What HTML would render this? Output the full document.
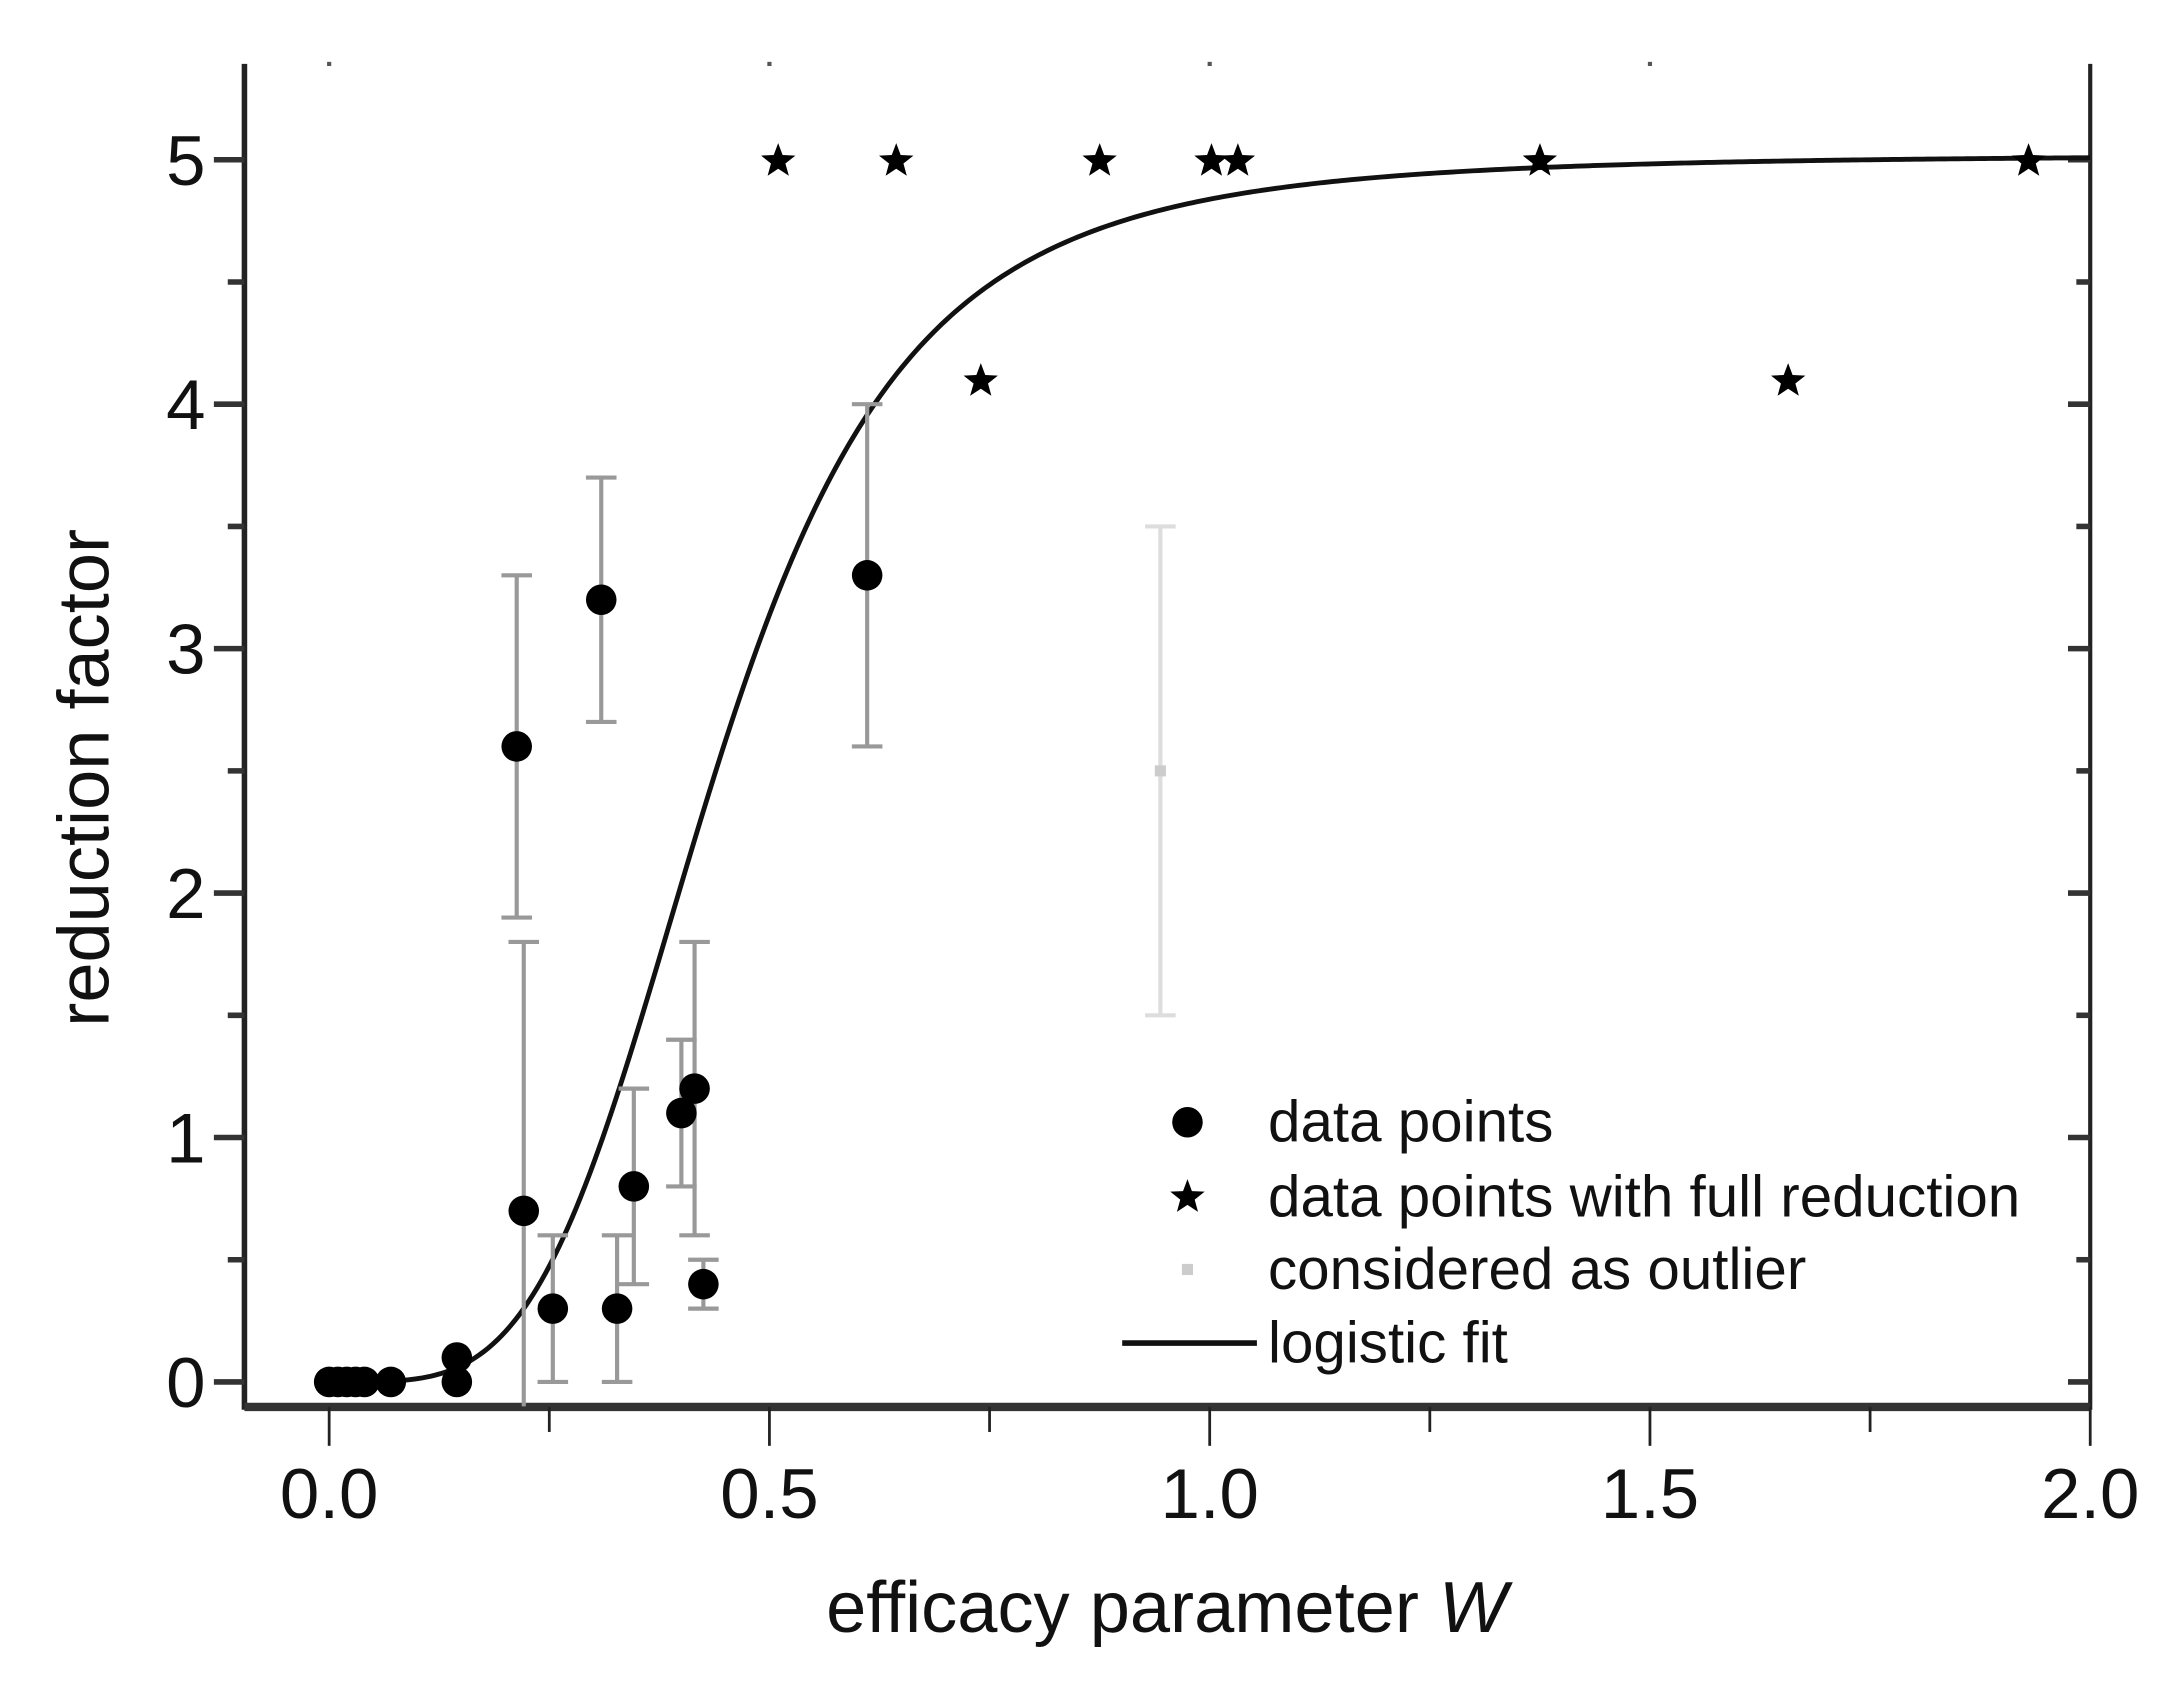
<!DOCTYPE html>
<html><head><meta charset="utf-8"><style>
html,body{margin:0;padding:0;background:#fff;}
svg{display:block;font-family:"Liberation Sans",Arial,sans-serif;}
</style></head><body>
<svg id="chart" width="2168" height="1682" viewBox="0 0 1561 1211" xmlns="http://www.w3.org/2000/svg">
<g id="axes"></g>
<g id="fit"></g>
<g id="marks"></g>
<g id="legend"></g>
</svg>
<script>
const pointX = [0.0, 0.01, 0.02, 0.03, 0.04, 0.07, 0.145, 0.145, 0.213, 0.221, 0.254, 0.309, 0.327, 0.346, 0.40, 0.415, 0.425, 0.611];
const pointY = [0, 0, 0, 0, 0, 0, 0.1, 0, 2.6, 0.7, 0.3, 3.2, 0.3, 0.8, 1.1, 1.2, 0.4, 3.3];
const errLow = [null, null, null, null, null, null, null, null, 1.9, -0.1, 0, 2.7, 0, 0.4, 0.8, 0.6, 0.3, 2.6];
const errHigh = [null, null, null, null, null, null, null, null, 3.3, 1.8, 0.6, 3.7, 0.6, 1.2, 1.4, 1.8, 0.5, 4.0];
const starX = [0.51, 0.644, 0.875, 1.002, 1.032, 1.375, 1.93, 0.74, 1.657];
const starY = [5, 5, 5, 5, 5, 5, 5, 4.1, 4.1];
const outlierX = [0.944];
const outlierY = [2.5];
const outlierLow = [1.5];
const outlierHigh = [3.5];
const fitParams = [0, 5.02, 0.44, 4]; // A1, A2, x0, p
const xTicks = [0.0, 0.5, 1.0, 1.5, 2.0];
const xTickLabels = ["0.0", "0.5", "1.0", "1.5", "2.0"];
const yTicks = [0, 1, 2, 3, 4, 5];
const yTickLabels = ["0", "1", "2", "3", "4", "5"];

const L = 176, R = 1505, T = 46, B = 1013;
const xs = v => 237 + (v - 0) * (1505 - 237) / 2.0;
const ys = v => 995 - v * (995 - 115) / 5;
const NS = "http://www.w3.org/2000/svg";
function mk(tag, attrs, parent) {
  const e = document.createElementNS(NS, tag);
  for (const k in attrs) e.setAttribute(k, attrs[k]);
  parent.appendChild(e);
  return e;
}
const axes = document.getElementById('axes');
const marks = document.getElementById('marks');
const fitG = document.getElementById('fit');
const legend = document.getElementById('legend');

let e;
e = mk('line', {x1: L, y1: T, x2: L, y2: B + 2, stroke: '#222', 'stroke-width': 4}, axes);


e = mk('line', {x1: R, y1: T, x2: R, y2: B + 2, stroke: '#222', 'stroke-width': 3}, axes);


e = mk('line', {x1: L, y1: B, x2: R, y2: B, stroke: '#333', 'stroke-width': 6}, axes);



for (let v = 0; v <= 5.01; v += 0.5) {
  const major = Math.abs(v - Math.round(v)) < 0.01;
  const y = ys(v);
  e = mk('line', {x1: L - (major ? 22 : 12), y1: y, x2: L, y2: y, stroke: '#333', 'stroke-width': 4}, axes);
  
  
  e = mk('line', {x1: R - (major ? 16 : 10), y1: y, x2: R, y2: y, stroke: '#333', 'stroke-width': 4}, axes);
  
  
}
yTicks.forEach((v, i) => {
  e = mk('text', {x: 148, y: ys(v) + 18, 'text-anchor': 'end', 'font-size': 51, fill: '#111'}, axes);
  e.textContent = yTickLabels[i];
  
  
});
for (let v = 0; v <= 2.001; v += 0.25) {
  const major = Math.abs(v * 2 - Math.round(v * 2)) < 0.01;
  const x = xs(v);
  e = mk('line', {x1: x, y1: B, x2: x, y2: B + (major ? 28 : 18), stroke: '#222', 'stroke-width': 2}, axes);
  
  
  if (major && v < 1.9) {
    e = mk('rect', {x: x - 1.5, y: T - 1.5, width: 3, height: 3, fill: '#555'}, axes);
    
    
  }
}
xTicks.forEach((v, i) => {
  e = mk('text', {x: xs(v), y: 1093, 'text-anchor': 'middle', 'font-size': 51, fill: '#111'}, axes);
  e.textContent = xTickLabels[i];
  
  
});
e = mk('text', {x: 840, y: 1175, 'text-anchor': 'middle', 'font-size': 52, fill: '#111'}, axes);
e.innerHTML = 'efficacy parameter <tspan font-style="italic">W</tspan>';


e = mk('text', {x: 0, y: 0, 'text-anchor': 'middle', 'font-size': 52, fill: '#111', transform: 'translate(78,560) rotate(-90)'}, axes);
e.textContent = 'reduction factor';



function errBar(x, lo, hi, color, name) {
  const g = mk('g', {stroke: color, 'stroke-width': 3}, marks);
  
  
  const xx = xs(x), y1 = Math.min(ys(lo), B), y2 = ys(hi);
  mk('line', {x1: xx, y1: y1, x2: xx, y2: y2}, g);
  mk('line', {x1: xx - 11, y1: y2, x2: xx + 11, y2: y2}, g);
  if (ys(lo) < B - 4) mk('line', {x1: xx - 11, y1: y1, x2: xx + 11, y2: y1}, g);
}
pointX.forEach((x, i) => {
  if (errLow[i] !== null) errBar(x, errLow[i], errHigh[i], '#999', 'error-bar');
});
outlierX.forEach((x, i) => errBar(x, outlierLow[i], outlierHigh[i], '#ddd', 'outlier-error-bar'));

let d = '';
for (let k = 0; k <= 400; k++) {
  const x = 0.001 + k * (2.0 - 0.001) / 400;
  const y = fitParams[1] + (fitParams[0] - fitParams[1]) / (1 + Math.pow(x / fitParams[2], fitParams[3]));
  d += (k ? 'L' : 'M') + xs(x).toFixed(2) + ',' + ys(y).toFixed(2);
}
e = mk('path', {d: d, fill: 'none', stroke: '#111', 'stroke-width': 3.5}, fitG);



pointX.forEach((x, i) => {
  e = mk('circle', {cx: xs(x), cy: ys(pointY[i]), r: 11, fill: '#000'}, marks);
  
  
});
function starPts(cx, cy, r) {
  let p = [];
  for (let k = 0; k < 10; k++) {
    const a = -Math.PI / 2 + k * Math.PI / 5;
    const rr = k % 2 ? r * 0.42 : r;
    p.push((cx + rr * Math.cos(a)).toFixed(1) + ',' + (cy + rr * Math.sin(a)).toFixed(1));
  }
  return p.join(' ');
}
starX.forEach((x, i) => {
  e = mk('polygon', {points: starPts(xs(x), ys(starY[i]) + 1, 13), fill: '#000'}, marks);
  
  
});
outlierX.forEach((x, i) => {
  e = mk('rect', {x: xs(x) - 4, y: ys(outlierY[i]) - 4, width: 8, height: 8, fill: '#ccc'}, marks);
  
  
});

e = mk('circle', {cx: 855, cy: 808, r: 11, fill: '#000'}, legend);


e = mk('polygon', {points: starPts(855, 862, 13), fill: '#000'}, legend);


e = mk('rect', {x: 851, y: 910, width: 8, height: 8, fill: '#ccc'}, legend);


e = mk('line', {x1: 808, y1: 967, x2: 905, y2: 967, stroke: '#111', 'stroke-width': 4}, legend);


const legTexts = ['data points', 'data points with full reduction', 'considered as outlier', 'logistic fit'];
const legY = [808, 862, 914, 967];
legTexts.forEach((t, i) => {
  e = mk('text', {x: 913, y: legY[i] + 14, 'font-size': 42, fill: '#111'}, legend);
  e.textContent = t;
  
  
});
</script>
</body></html>
